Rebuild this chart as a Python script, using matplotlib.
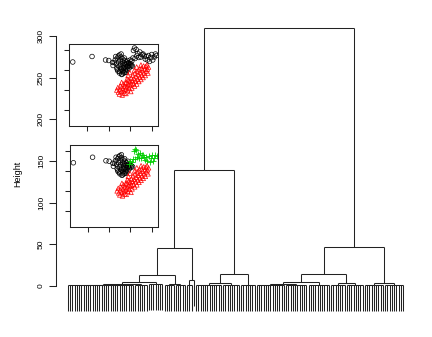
import matplotlib
matplotlib.use("Agg")
import matplotlib.pyplot as plt

plt.rcParams['font.family'] = ['Liberation Sans', 'DejaVu Sans']

# ---------------- data ----------------
# Dendrogram: internal node = [height, left, right]; bunch of leaves = (n_leaves, merge_height)
tree = [310,
        [139,
         [46,
          [13,
           [5, [2, [1.2, (17, 0.8), (13, 0.9)], (6, 1.0)], (7, 2.2)],
           [2.6, (5, 1.0), (5, 0.8)]],
          [7, (3, 1.0), (1, None)]],
         [14, [4, (12, 1.2), (8, 1.0)], (7, 1.5)]],
        [47,
         [14.5,
          [5, [1.8, (13, 0.6), (10, 0.9)], (10, 1.5)],
          [3.5, (7, 1.2), (8, 1.0)]],
         [4, (9, 1.3), (9, 1.5)]]]
hang_frac = 0.1
y_ticks = [0, 50, 100, 150, 200, 250, 300]
y_label = "Height"

# Inset scatter data (same points, coloured by k=2 and k=3 cuts)
black_x = [6.4, 24.4, 37, 40, 43.5, 44, 46, 47, 47.5, 48, 48.5, 49, 49.5, 50, 50, 50.5, 51, 51, 51.5, 52,
           52, 52.5, 53, 53, 53.5, 54, 54, 54.5, 55, 55, 55.5, 56, 56, 56.5, 57, 57, 57.5, 58, 58.5, 59,
           59.5, 60, 60.5, 49, 51.5, 46.5, 45, 48, 50, 52.5, 55, 53.5, 56.5, 54.5, 57.5, 61, 62]
black_y = [68, 73.5, 70, 69.5, 67.5, 64.5, 70, 66, 62, 72, 59, 68, 64, 75, 57, 70, 61, 66, 73, 55.5,
           63, 68.5, 59, 71, 65, 61.5, 57, 67, 63, 69.5, 59.5, 65.5, 61, 68, 63.5, 66.5, 60, 64, 67, 62,
           65, 66.5, 63.5, 74, 76, 73.5, 67.5, 60.5, 58.5, 56, 57.5, 62.5, 58, 72, 69.5, 65, 64]
green_x = [58.5, 60, 61.5, 62.5, 63, 64, 64.5, 65.5, 66, 67, 68, 69, 70, 71, 72, 73, 74, 75, 76, 77,
           78, 79.5, 80, 81, 82.5, 83.5, 84.5]
green_y = [67, 70, 69, 72, 79.5, 82, 71.5, 80.5, 74, 76.5, 72.5, 78, 73, 75.5, 76, 74, 71, 73.5, 70, 74.5,
           68.5, 72.5, 75.5, 70, 73, 76, 74.5]
red_x = [47.5, 48.5, 49, 50, 50.5, 51, 52, 52.5, 53, 53.5, 54, 54.5, 55, 55.5, 56, 56.5, 57, 57.5, 58, 58.5,
         59, 59.5, 60, 60.5, 61, 61, 61.5, 62, 62.5, 63, 63.5, 64, 64.5, 65, 65.5, 66, 66.5, 67, 67.5, 68,
         68.5, 69, 69.5, 70, 70.5, 71, 71.5, 72, 72.5, 73, 73.5, 74, 74.5, 75, 75.5, 76, 76.5, 77, 58, 57,
         55.5, 59.5, 52, 64, 70, 66]
red_y = [40, 42.5, 38, 36, 41, 44, 38.5, 35, 42, 46, 39.5, 37, 44, 41, 36.5, 48, 43, 39.5, 46, 50,
         41.5, 44.5, 48.5, 38.5, 52, 45.5, 42, 49.5, 55, 46.5, 51.5, 44, 57, 49, 53.5, 46, 59, 51, 55.5, 48.5,
         61, 53, 57.5, 50.5, 62, 55, 59.5, 52.5, 64, 57, 61, 54.5, 63.5, 59, 65, 61, 57, 63, 54.5, 51,
         47, 57.5, 47.5, 60, 65, 63]
inset_ticks = [20, 40, 60, 80]

# ---------------- figure ----------------
W, H = 432, 337
fig = plt.figure(figsize=(W / 100, H / 100), dpi=100)
line_col = '#222222'
lw = 0.75


def px_rect(x0, y0, x1, y1):
    return [x0 / W, 1 - y1 / H, (x1 - x0) / W, (y1 - y0) / H]


# main dendrogram axes
n_leaves = 0


def count(node):
    if isinstance(node, tuple):
        return node[0]
    return count(node[1]) + count(node[2])


n_leaves = count(tree)
top_h = tree[0]
hang = hang_frac * top_h

ax = fig.add_axes(px_rect(56, 19.3, 415, 319.3))
ppu = (403 - 68) / (n_leaves - 1)
ax.set_xlim(-12 / ppu, n_leaves - 1 + 12 / ppu)
ax.set_ylim(-40, 320)

segs = []


def draw(node, start):
    """returns (x_center, top_height or None for single leaf, next_start)"""
    if isinstance(node, tuple):
        k, h = node
        xs = list(range(start, start + k))
        if k == 1:
            return xs[0], None, start + 1
        ax.plot([xs[0], xs[-1]], [h, h], color=line_col, lw=lw, solid_capstyle='butt')
        for x in xs:
            ax.plot([x, x], [h, h - hang], color=line_col, lw=lw, solid_capstyle='butt')
        return sum(xs) / k, h, start + k
    Hn, L, R = node
    xl, hl, s = draw(L, start)
    xr, hr, s = draw(R, s)
    for xc, hc in ((xl, hl), (xr, hr)):
        lo = hc if hc is not None else Hn - hang
        ax.plot([xc, xc], [lo, Hn], color=line_col, lw=lw, solid_capstyle='butt')
    ax.plot([xl, xr], [Hn, Hn], color=line_col, lw=lw, solid_capstyle='butt')
    return (xl + xr) / 2, Hn, s


draw(tree, 0)

for s in ('top', 'right', 'bottom'):
    ax.spines[s].set_visible(False)
ax.spines['left'].set_bounds(y_ticks[0], y_ticks[-1])
ax.spines['left'].set_color(line_col)
ax.spines['left'].set_linewidth(lw)
ax.set_xticks([])
ax.set_yticks(y_ticks)
ax.set_yticklabels([str(t) for t in y_ticks], rotation=90, va='center', fontsize=6)
ax.tick_params(axis='y', length=5, width=lw, color=line_col, pad=3)
ax.patch.set_alpha(0)
fig.text(18 / W, 1 - 173.5 / H, y_label, rotation=90, ha='center', va='center', fontsize=6.5)


def inset(rect, groups):
    a = fig.add_axes(rect)
    for xs, ys, m, c in groups:
        if m == '+':
            a.scatter(xs, ys, marker='+', s=14, c=c, linewidths=0.6)
        else:
            a.scatter(xs, ys, marker=m, s=11, facecolors='none', edgecolors=c, linewidths=0.5)
    a.set_xlim(3.2, 85.9)
    a.set_ylim(3.7, 85.7)
    a.set_xticks(inset_ticks)
    a.set_yticks(inset_ticks)
    a.set_xticklabels([])
    a.set_yticklabels([])
    a.tick_params(length=3.3, width=lw, color=line_col, direction='out')
    for s in a.spines.values():
        s.set_color(line_col)
        s.set_linewidth(lw)
    return a


inset(px_rect(69.3, 44.3, 158, 126.3),
      [(black_x + green_x, black_y + green_y, 'o', 'black'),
       (red_x, red_y, '^', '#FF0000')])
inset(px_rect(70, 145, 158, 227.3),
      [(black_x, black_y, 'o', 'black'),
       (green_x, green_y, '+', '#00CD00'),
       (red_x, red_y, '^', '#FF0000')])

fig.savefig('out.png', dpi=100)
